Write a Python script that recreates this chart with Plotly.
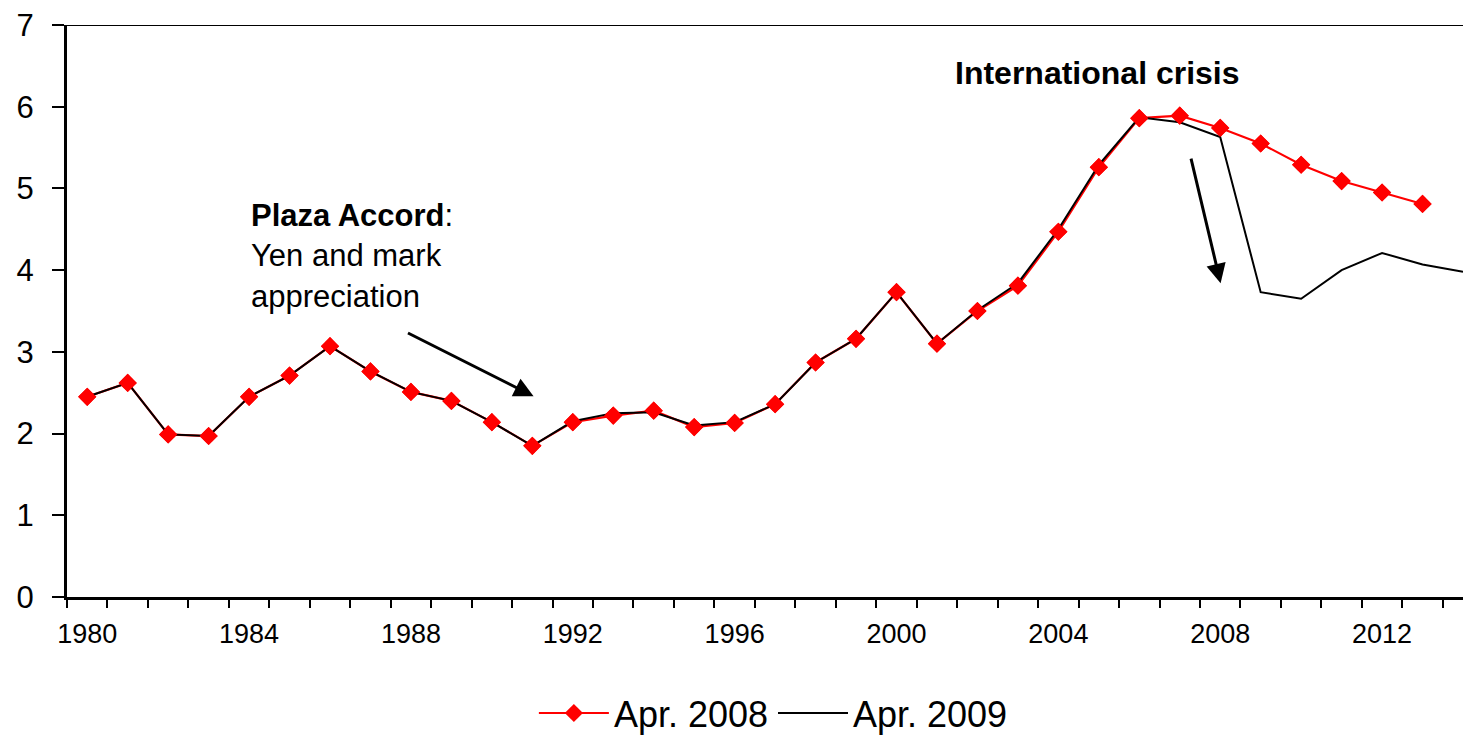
import plotly.graph_objects as go

# Annual series, 1980 onwards
years_2008 = list(range(1980, 2014))
apr_2008 = [2.45, 2.62, 1.99, 1.97, 2.45, 2.71, 3.07, 2.76, 2.51, 2.40,
            2.14, 1.85, 2.14, 2.22, 2.28, 2.08, 2.13, 2.36, 2.87, 3.16,
            3.73, 3.10, 3.50, 3.81, 4.47, 5.26, 5.86, 5.89, 5.74, 5.55,
            5.29, 5.09, 4.95, 4.81]

years_2009 = list(range(1980, 2015))
apr_2009 = [2.45, 2.62, 1.99, 1.97, 2.45, 2.71, 3.07, 2.76, 2.51, 2.40,
            2.14, 1.85, 2.15, 2.25, 2.26, 2.10, 2.14, 2.36, 2.87, 3.16,
            3.73, 3.10, 3.51, 3.84, 4.50, 5.29, 5.87, 5.81, 5.63, 3.73,
            3.65, 4.00, 4.21, 4.07, 3.98]

tick_years = [1980, 1984, 1988, 1992, 1996, 2000, 2004, 2008, 2012]
y_ticks = [0, 1, 2, 3, 4, 5, 6, 7]

FONT = "Arial, Liberation Sans, sans-serif"
RED = "#ff0000"

fig = go.Figure()

# Apr. 2008: line with diamond markers
fig.add_trace(go.Scatter(
    x=years_2008, y=apr_2008, name="Apr. 2008", mode="lines+markers",
    line=dict(color=RED, width=2.2),
    marker=dict(symbol="diamond", size=14, color=RED),
))
# Apr. 2009: plain black line
fig.add_trace(go.Scatter(
    x=years_2009, y=apr_2009, name="Apr. 2009", mode="lines",
    line=dict(color="black", width=2),
))
# Apr. 2008 markers again so they sit above the black line
fig.add_trace(go.Scatter(
    x=years_2008, y=apr_2008, mode="markers", showlegend=False,
    marker=dict(symbol="diamond", size=14, color=RED),
    hoverinfo="skip",
))

annotations = [
    dict(x=2001.4, y=6.41, xref="x", yref="y", xanchor="left", yanchor="middle",
         text="<b>International crisis</b>", showarrow=False,
         font=dict(family=FONT, size=32, color="black")),
    dict(x=1984.0, y=4.17, xref="x", yref="y", xanchor="left", yanchor="middle",
         align="left",
         text="<b>Plaza Accord</b>:<br>Yen and mark<br>appreciation",
         showarrow=False, font=dict(family=FONT, size=31, color="black")),
    # arrows
    dict(x=1991.03, y=2.456, ax=1987.89, ay=3.24, xref="x", yref="y",
         axref="x", ayref="y", text="", showarrow=True, arrowhead=2,
         arrowsize=1.3, arrowwidth=3, arrowcolor="black", standoff=0),
    dict(x=2008.01, y=3.84, ax=2007.27, ay=5.383, xref="x", yref="y",
         axref="x", ayref="y", text="", showarrow=True, arrowhead=2,
         arrowsize=1.3, arrowwidth=3, arrowcolor="black", standoff=0),
]

fig.update_layout(
    width=1463, height=735,
    margin=dict(l=67, r=0, t=25, b=138, autoexpand=False),
    paper_bgcolor="white", plot_bgcolor="white",
    font=dict(family=FONT, color="black"),
    showlegend=True,
    legend=dict(orientation="h", x=0.506, xanchor="center", y=-0.203,
                yanchor="middle", font=dict(family=FONT, size=36),
                itemwidth=70, bgcolor="rgba(0,0,0,0)",
                borderwidth=0, tracegroupgap=0),
    annotations=annotations,
    shapes=[dict(type="line", xref="paper", yref="y", x0=0, x1=1, y0=7, y1=7,
                 line=dict(color="black", width=2))],
    xaxis=dict(
        range=[1979.5, 2014.0], tickmode="array", tickvals=tick_years,
        ticktext=[str(t) for t in tick_years], ticks="", showgrid=False,
        zeroline=False, showline=True, linecolor="black", linewidth=3,
        tickfont=dict(family=FONT, size=27), ticklabelstandoff=11,
        minor=dict(ticks="outside", tick0=1979.5, dtick=1, ticklen=8,
                   tickwidth=2, tickcolor="black", showgrid=False),
    ),
    yaxis=dict(
        range=[0, 7], tickmode="array", tickvals=y_ticks, ticks="outside",
        ticklen=12, tickwidth=2, tickcolor="black", showgrid=False,
        zeroline=False, showline=True, linecolor="black", linewidth=3,
        tickfont=dict(family=FONT, size=31), ticklabelstandoff=12,
    ),
)

fig.write_html("out.html")
